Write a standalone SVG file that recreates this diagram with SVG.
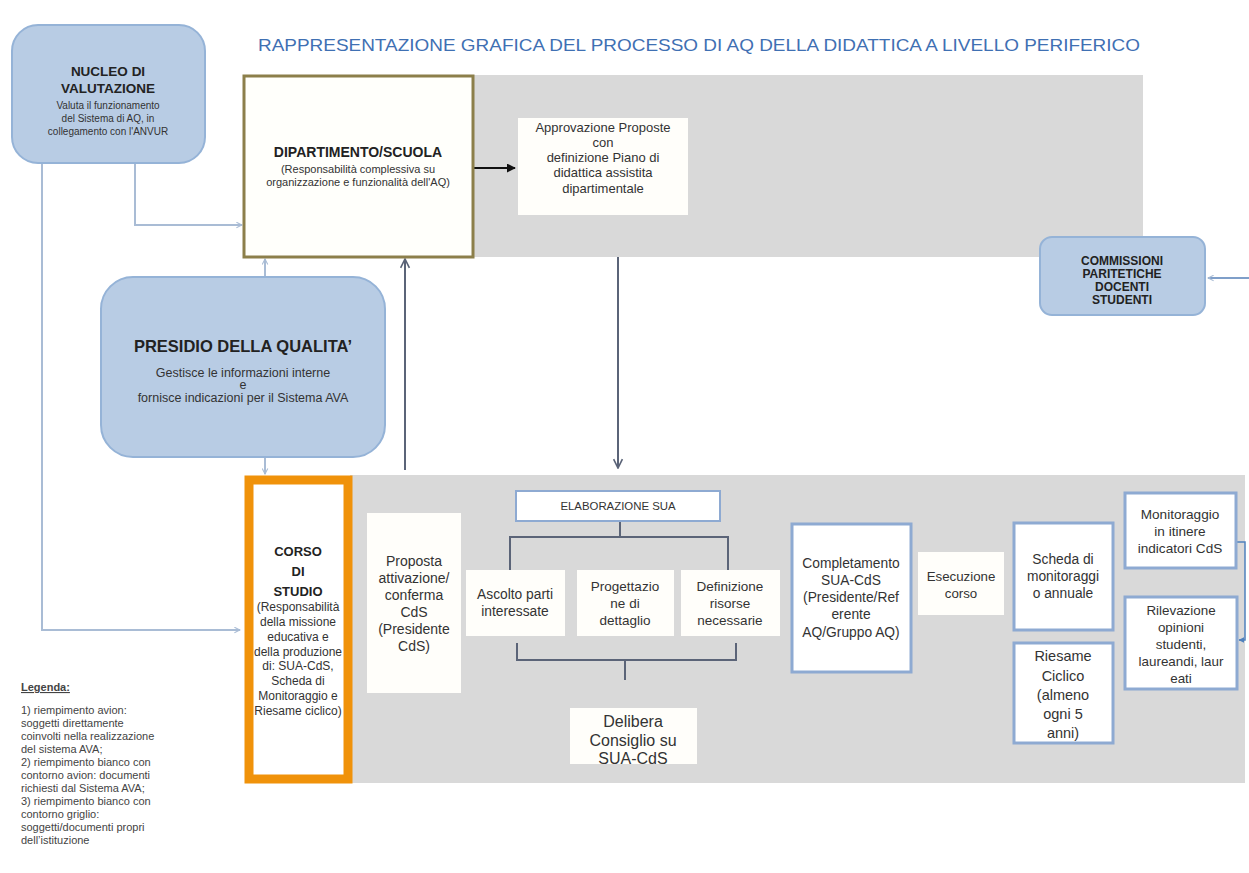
<svg xmlns="http://www.w3.org/2000/svg" width="1249" height="873" viewBox="0 0 1249 873">
<style>
text{font-family:"Liberation Sans",Arial,sans-serif;fill:#333;text-anchor:middle}
.avion{fill:#b8cce4;stroke:#95b3d7;stroke-width:2}
.doc{fill:#fff;stroke:#8eaad2;stroke-width:3}
.plain{fill:#fffefa;stroke:none}
.b{font-weight:bold;fill:#222}
.lg{font-size:11px;text-anchor:start;fill:#444}
.lb{stroke:#a9bcd5;stroke-width:2;fill:none}
.dk{stroke:#5b6478;stroke-width:2;fill:none}
</style>
<defs>
<marker id="al" viewBox="0 0 10 10" refX="9" refY="5" markerWidth="7" markerHeight="7" orient="auto" markerUnits="userSpaceOnUse"><path d="M1,1 L9,5 L1,9" fill="none" stroke="#a9bcd5" stroke-width="1.5"/></marker>
<marker id="ad" viewBox="0 0 10 10" refX="9" refY="5" markerWidth="11" markerHeight="11" orient="auto" markerUnits="userSpaceOnUse"><path d="M1,1 L9,5 L1,9" fill="none" stroke="#5b6478" stroke-width="1.5"/></marker>
<marker id="ab" viewBox="0 0 10 10" refX="9" refY="5" markerWidth="9" markerHeight="9" orient="auto" markerUnits="userSpaceOnUse"><path d="M0,0 L10,5 L0,10 Z" fill="#111"/></marker>
<marker id="au" viewBox="0 0 10 10" refX="9" refY="5" markerWidth="6" markerHeight="6" orient="auto" markerUnits="userSpaceOnUse"><path d="M0,0 L10,5 L0,10 Z" fill="#4f81bd"/></marker>
</defs>
<rect width="1249" height="873" fill="#fff"/>
<text x="699" y="51" font-size="17" style="fill:#3f70b3" textLength="882" lengthAdjust="spacingAndGlyphs">RAPPRESENTAZIONE GRAFICA DEL PROCESSO DI AQ DELLA DIDATTICA A LIVELLO PERIFERICO</text>

<!-- backgrounds -->
<rect x="473" y="75" width="670" height="182" fill="#d9d9d9"/>
<rect x="350" y="475" width="895" height="308" fill="#d9d9d9"/>

<g id="connectors">
<path class="lb" d="M135,163 V225 H242" marker-end="url(#al)"/>
<path class="lb" d="M42,163 V630 H240" marker-end="url(#al)"/>
<path class="lb" d="M265,277 V259" marker-end="url(#al)"/>
<path class="lb" d="M265,457 V474" marker-end="url(#al)"/>
<path class="dk" d="M405,470 V259" marker-end="url(#ad)"/>
<path class="dk" d="M618,257 V468" marker-end="url(#ad)"/>
<path d="M474,168 H515" stroke="#111" stroke-width="2" marker-end="url(#ab)"/>
<path class="lb" d="M1249,278 H1208" marker-end="url(#al)" style="stroke:#7f9fc9"/>
<path class="dk" d="M620,521 V537 M510,570 V537 H728 V570"/>
<path class="dk" d="M517,643 V660 H736 V643 M625,660 V680"/>
<path d="M1237,542 H1245 V640 H1239" fill="none" stroke="#4f81bd" stroke-width="1.5" marker-end="url(#au)"/>
</g>

<g id="nucleo">
<rect class="avion" x="12" y="25" width="193" height="138" rx="26"/>
<text class="b" x="108" y="76" font-size="13.5">NUCLEO DI</text>
<text class="b" x="108" y="93" font-size="13.5">VALUTAZIONE</text>
<text x="108" y="109" font-size="10">Valuta il funzionamento</text>
<text x="108" y="122" font-size="10">del  Sistema di AQ, in</text>
<text x="108" y="135" font-size="10">collegamento  con l'ANVUR</text>
</g>

<g id="dipartimento">
<rect x="244" y="76" width="229" height="181" fill="#fffffb" stroke="#8c7f4a" stroke-width="3"/>
<text class="b" x="358" y="157" font-size="14">DIPARTIMENTO/SCUOLA</text>
<text x="358" y="173" font-size="11">(Responsabilità complessiva su</text>
<text x="358" y="186" font-size="11">organizzazione e funzionalità dell'AQ)</text>
</g>

<g id="approvazione">
<rect class="plain" x="518" y="118" width="170" height="97"/>
<text x="603" y="132" font-size="13">Approvazione Proposte</text>
<text x="603" y="147" font-size="13">con</text>
<text x="603" y="162" font-size="13">definizione Piano di</text>
<text x="603" y="177" font-size="13">didattica assistita</text>
<text x="603" y="193" font-size="13">dipartimentale</text>
</g>

<g id="presidio">
<rect class="avion" x="101" y="277" width="284" height="180" rx="32"/>
<text class="b" x="243" y="352" font-size="16.5">PRESIDIO DELLA QUALITA’</text>
<text x="243" y="377" font-size="12.5">Gestisce le informazioni interne</text>
<text x="243" y="389" font-size="12.5">e</text>
<text x="243" y="402" font-size="12.5">fornisce indicazioni per il Sistema AVA</text>
</g>

<g id="commissioni">
<rect class="avion" x="1040" y="237" width="165" height="78" rx="12"/>
<text class="b" x="1122" y="265" font-size="12">COMMISSIONI</text>
<text class="b" x="1122" y="278" font-size="12">PARITETICHE</text>
<text class="b" x="1122" y="291" font-size="12">DOCENTI</text>
<text class="b" x="1122" y="304" font-size="12">STUDENTI</text>
</g>

<g id="corso">
<rect x="249" y="480" width="99" height="299" fill="#fff" stroke="#f0920a" stroke-width="9"/>
<text class="b" x="298" y="556" font-size="13">CORSO</text>
<text class="b" x="298" y="576" font-size="13">DI</text>
<text class="b" x="298" y="596" font-size="13">STUDIO</text>
<text x="298" y="611" font-size="12">(Responsabilità</text>
<text x="298" y="626" font-size="12">della missione</text>
<text x="298" y="641" font-size="12">educativa e</text>
<text x="298" y="656" font-size="12">della produzione</text>
<text x="298" y="670" font-size="12">di: SUA-CdS,</text>
<text x="298" y="685" font-size="12">Scheda di</text>
<text x="298" y="700" font-size="12">Monitoraggio  e</text>
<text x="298" y="715" font-size="12">Riesame ciclico)</text>
</g>

<g id="proposta">
<rect class="plain" x="367" y="513" width="94" height="180"/>
<text x="414" y="566" font-size="14">Proposta</text>
<text x="414" y="583" font-size="14">attivazione/</text>
<text x="414" y="600" font-size="14">conferma</text>
<text x="414" y="617" font-size="14">CdS</text>
<text x="414" y="634" font-size="14">(Presidente</text>
<text x="414" y="651" font-size="14">CdS)</text>
</g>

<g id="elaborazione">
<rect x="516" y="491" width="204" height="30" fill="#fff" stroke="#8eaad2" stroke-width="2"/>
<text x="618" y="510" font-size="11.4">ELABORAZIONE SUA</text>
</g>

<g id="ascolto">
<rect class="plain" x="466" y="570" width="99" height="66"/>
<text x="515" y="599" font-size="13.8">Ascolto parti</text>
<text x="515" y="616" font-size="13.8">interessate</text>
</g>
<g id="progettazione">
<rect class="plain" x="577" y="570" width="97" height="66"/>
<text x="625" y="591" font-size="13.5">Progettazio</text>
<text x="625" y="608" font-size="13.5">ne di</text>
<text x="625" y="625" font-size="13.5">dettaglio</text>
</g>
<g id="definizione">
<rect class="plain" x="681" y="570" width="99" height="66"/>
<text x="730" y="591" font-size="13.5">Definizione</text>
<text x="730" y="608" font-size="13.5">risorse</text>
<text x="730" y="625" font-size="13.5">necessarie</text>
</g>

<g id="delibera">
<rect class="plain" x="570" y="708" width="127" height="56"/>
<text x="633" y="727" font-size="16">Delibera</text>
<text x="633" y="746" font-size="16">Consiglio su</text>
<text x="633" y="764" font-size="16">SUA-CdS</text>
</g>

<g id="completamento">
<rect class="doc" x="792" y="524" width="119" height="148"/>
<text x="851" y="568" font-size="13.8">Completamento</text>
<text x="851" y="585" font-size="13.8">SUA-CdS</text>
<text x="851" y="602" font-size="13.8">(Presidente/Ref</text>
<text x="851" y="619" font-size="13.8">erente</text>
<text x="851" y="637" font-size="13.8">AQ/Gruppo AQ)</text>
</g>

<g id="esecuzione">
<rect class="plain" x="918" y="552" width="86" height="63"/>
<text x="961" y="581" font-size="13.3">Esecuzione</text>
<text x="961" y="598" font-size="13.3">corso</text>
</g>

<g id="scheda">
<rect class="doc" x="1014" y="523" width="99" height="107"/>
<text x="1063" y="564" font-size="13.8">Scheda di</text>
<text x="1063" y="581" font-size="13.8">monitoraggi</text>
<text x="1063" y="598" font-size="13.8">o annuale</text>
</g>

<g id="riesame">
<rect class="doc" x="1014" y="643" width="99" height="100"/>
<text x="1063" y="661" font-size="14.5">Riesame</text>
<text x="1063" y="681" font-size="14.5">Ciclico</text>
<text x="1063" y="700" font-size="14.5">(almeno</text>
<text x="1063" y="719" font-size="14.5">ogni 5</text>
<text x="1063" y="738" font-size="14.5">anni)</text>
</g>

<g id="monitoraggio">
<rect class="doc" x="1125" y="493" width="111" height="75"/>
<text x="1180" y="519" font-size="13.6">Monitoraggio</text>
<text x="1180" y="536" font-size="13.6">in itinere</text>
<text x="1180" y="553" font-size="13.6">indicatori CdS</text>
</g>

<g id="rilevazione">
<rect class="doc" x="1125" y="597" width="112" height="92"/>
<text x="1181" y="615" font-size="13.4">Rilevazione</text>
<text x="1181" y="632" font-size="13.4">opinioni</text>
<text x="1181" y="649" font-size="13.4">studenti,</text>
<text x="1181" y="666" font-size="13.4">laureandi, laur</text>
<text x="1181" y="683" font-size="13.4">eati</text>
</g>

<g id="legenda">
<text class="lg" x="21" y="691" font-size="10.3" font-weight="bold" text-decoration="underline">Legenda:</text>
<text class="lg" x="21" y="714">1) riempimento avion:</text>
<text class="lg" x="21" y="727">soggetti direttamente</text>
<text class="lg" x="21" y="740">coinvolti nella realizzazione</text>
<text class="lg" x="21" y="753">del sistema AVA;</text>
<text class="lg" x="21" y="766">2) riempimento bianco con</text>
<text class="lg" x="21" y="779">contorno avion: documenti</text>
<text class="lg" x="21" y="792">richiesti dal Sistema AVA;</text>
<text class="lg" x="21" y="805">3) riempimento bianco con</text>
<text class="lg" x="21" y="818">contorno griglio:</text>
<text class="lg" x="21" y="831">soggetti/documenti  propri</text>
<text class="lg" x="21" y="844">dell’istituzione</text>
</g>
</svg>
